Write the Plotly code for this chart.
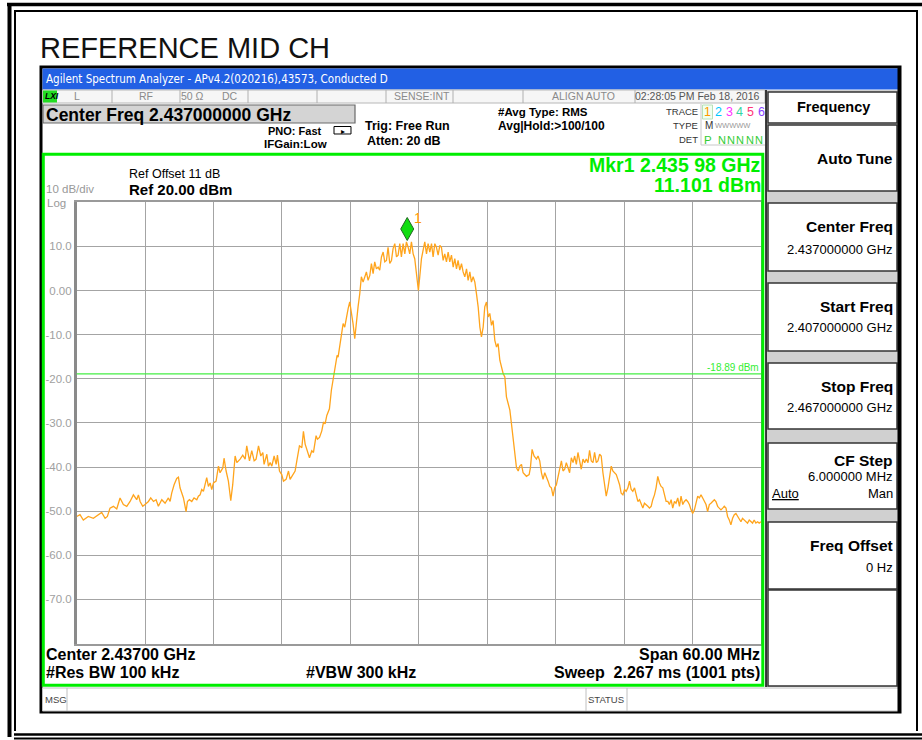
import plotly.graph_objects as go

W, H = 922, 740
FONT = "Liberation Sans, Arial, sans-serif"

# ---------------- data ----------------
start_ghz = 2.407
stop_ghz = 2.467
offset_mhz = [
    0.00, 0.29, 0.58, 1.02, 1.46, 1.90, 2.19, 2.49, 2.69, 2.92, 3.22, 3.51, 3.80, 4.09, 4.39, 4.68,
    4.97, 5.26, 5.41, 5.56, 5.79, 5.99, 6.29, 6.49, 6.73, 6.96, 7.16, 7.46, 7.75, 8.04, 8.19, 8.33,
    8.54, 8.77, 8.92, 9.06, 9.36, 9.59, 9.71, 9.88, 10.09, 10.29, 10.53, 10.67, 10.82, 10.96, 11.11,
    11.40, 11.55, 11.70, 11.84, 11.99, 12.22, 12.43, 12.57, 12.81, 12.92, 13.10, 13.30, 13.51, 13.68,
    13.89, 14.04, 14.33, 14.56, 14.77, 14.91, 15.15, 15.35, 15.56, 15.73, 15.94, 16.14, 16.32, 16.43,
    16.67, 16.81, 16.96, 17.11, 17.31, 17.49, 17.60, 17.78, 17.98, 18.13, 18.36, 18.57, 18.71, 18.95,
    19.15, 19.30, 19.53, 19.74, 19.88, 20.03, 20.23, 20.41, 20.61, 20.76, 20.99, 21.11, 21.29, 21.49,
    21.64, 21.78, 21.93, 22.16,
    22.33, 22.48, 22.68, 22.83, 22.92, 23.06, 23.21, 23.36, 23.50, 23.65, 23.80, 23.94, 24.09, 24.23,
    24.38, 24.53, 24.67, 24.82, 24.96, 25.11, 25.26, 25.40, 25.55, 25.70, 25.84, 25.99, 26.13, 26.28,
    26.43, 26.57, 26.72, 26.87, 27.01, 27.16, 27.30, 27.45, 27.60, 27.74, 27.89, 28.04, 28.18, 28.33,
    28.47, 28.62, 28.77, 28.91, 29.06, 29.20, 29.35, 29.50, 29.64, 29.79, 29.88, 29.96, 30.08, 30.23,
    30.37, 30.52, 30.67, 30.81, 30.96, 31.11, 31.25, 31.40, 31.54, 31.69, 31.84, 31.98, 32.13, 32.27,
    32.42, 32.57, 32.71, 32.86, 33.01, 33.15, 33.30, 33.44, 33.59, 33.74, 33.88, 34.03, 34.18, 34.32,
    34.47, 34.61, 34.76, 34.91, 35.05, 35.20, 35.35, 35.49, 35.64, 35.78, 35.93, 36.08, 36.22, 36.37,
    36.51, 36.66, 36.81, 36.95, 37.10, 37.25, 37.39, 37.54, 37.68, 37.83, 37.98, 38.12,
    38.27, 38.41, 38.56, 38.71, 38.85, 39.00, 39.14, 39.43, 39.67, 39.78, 39.93, 40.10, 40.31, 40.45,
    40.60, 40.75, 40.89, 41.04, 41.18, 41.33, 41.48, 41.62, 41.77, 41.91, 42.06, 42.20, 42.35, 42.50,
    42.64, 42.79, 42.93, 43.08, 43.22, 43.37, 43.52, 43.66, 43.81, 43.95, 44.10, 44.24, 44.39, 44.54,
    44.68, 44.83, 44.97, 45.12, 45.27, 45.41, 45.56, 45.70, 45.85, 45.99, 46.14, 46.29, 46.43, 46.58,
    46.72, 46.87, 47.01, 47.16, 47.31, 47.45, 47.60, 47.74, 47.89, 48.03, 48.18, 48.33, 48.47, 48.62,
    48.76, 48.91, 49.06, 49.20, 49.35, 49.49, 49.64, 49.78, 49.93, 50.08, 50.22, 50.37, 50.51, 50.66,
    50.80, 50.95, 51.10, 51.24, 51.39, 51.53, 51.68, 51.83, 51.97, 52.12, 52.26, 52.41, 52.55, 52.70,
    52.85, 52.99, 53.14, 53.28, 53.43, 53.57, 53.72, 53.87, 54.01, 54.16, 54.30, 54.45, 54.59, 54.74,
    54.89, 55.03, 55.18, 55.32, 55.47, 55.61, 55.76, 55.91, 56.05, 56.20, 56.34, 56.49, 56.64, 56.78,
    56.93, 57.07, 57.22, 57.36, 57.51, 57.66, 57.80, 57.95, 58.09, 58.24, 58.38, 58.53, 58.67, 58.82,
    58.97, 59.11, 59.26, 59.40, 59.55, 59.70, 59.84, 60.00,
]
level_dbm = [
    -51.2, -50.8, -52.0, -51.2, -51.6, -50.8, -50.3, -51.6, -51.2, -49.3, -48.9, -49.5, -47.0, -48.5, -48.9, -47.8,
    -46.3, -47.4, -46.3, -47.8, -48.9, -48.5, -47.8, -47.0, -47.8, -47.4, -48.9, -47.4, -48.2, -47.0, -47.8, -45.9,
    -44.0, -42.6, -42.3, -44.7, -47.0, -50.1, -47.8, -47.4, -47.8, -47.0, -47.4, -46.6, -46.3, -45.1, -45.5,
    -42.4, -44.4, -43.6, -45.1, -43.6, -43.2, -39.8, -41.3, -40.2, -38.0, -40.9, -43.2, -47.6, -44.0,
    -37.5, -39.0, -38.2, -37.3, -38.2, -35.2, -38.6, -36.3, -38.6, -38.2, -35.2, -37.5, -36.7, -39.4,
    -37.1, -39.8, -39.0, -39.8, -37.5, -39.4, -37.3, -40.9, -41.7, -43.2, -42.8, -40.9, -42.8, -41.7,
    -40.9, -38.6, -35.2, -35.6, -31.9, -34.8, -36.3, -37.9, -36.3, -36.7, -32.9, -33.7, -33.3, -31.8,
    -29.8, -30.2, -28.3, -26.8,
    -22.6, -20.3, -16.6, -14.7, -15.1, -12.8, -9.8, -7.5, -8.3, -6.0, -4.1, -2.6, -4.9, -7.5,
    -10.9, -6.8, -3.7, -0.7, 3.1, 1.9, 3.4, 4.2, 2.3, 3.4, 6.1, 3.8, 6.5, 4.9,
    5.3, 4.6, 7.6, 8.7, 6.5, 6.8, 9.8, 6.1, 6.8, 9.5, 10.6, 7.6, 8.0, 10.6,
    7.6, 10.6, 8.3, 11.0, 9.8, 8.3, 11.0, 8.3, 7.2, 3.8, 1.5, 0.0, 3.1, 7.2,
    9.1, 11.0, 8.3, 10.6, 8.7, 10.6, 7.6, 10.6, 9.8, 8.0, 10.2, 9.8, 6.8, 8.3,
    6.5, 8.7, 6.5, 8.0, 5.3, 7.2, 4.9, 6.8, 4.6, 6.1, 4.2, 3.1, 4.9, 2.3,
    4.2, 1.9, 3.1, 1.9, -0.7, -3.7, -8.3, -10.5, -8.3, -3.7, -2.6, -6.0, -5.2, -7.9,
    -6.8, -11.3, -12.8, -12.0, -15.8, -17.3, -18.8, -19.6, -24.1, -25.6, -27.1, -30.2,
    -33.3, -36.3, -40.2, -40.9, -39.8, -39.4, -41.3, -42.1, -41.7, -40.2, -36.0, -37.5, -38.2, -37.5,
    -38.6, -41.3, -42.8, -41.3, -42.1, -43.2, -44.4, -44.7, -46.6, -44.7, -44.0, -42.1, -40.5, -38.6,
    -40.9, -40.5, -39.0, -40.5, -41.3, -37.9, -39.0, -37.5, -39.4, -36.7, -39.0, -40.5, -38.2, -39.0,
    -38.2, -39.0, -36.2, -38.6, -39.0, -36.7, -39.0, -38.6, -37.1, -37.5, -41.3, -44.4, -46.6, -44.7,
    -42.4, -39.8, -40.9, -41.3, -41.7, -42.8, -44.0, -45.9, -46.3, -45.1, -45.5, -44.7, -43.2, -45.1,
    -45.5, -44.7, -46.6, -47.8, -47.4, -48.5, -49.3, -48.2, -48.5, -48.9, -49.3, -48.9, -47.4, -46.3,
    -44.7, -42.1, -43.6, -44.4, -44.7, -46.3, -47.8, -47.8, -48.5, -47.4, -49.3, -47.8, -48.2, -47.0,
    -48.9, -46.6, -48.5, -47.8, -47.4, -47.8, -48.5, -49.7, -50.5, -49.7, -47.8, -46.6, -47.0, -46.3,
    -47.0, -47.8, -48.5, -50.1, -48.5, -48.2, -47.8, -47.4, -47.8, -48.9, -49.3, -49.7, -49.3, -48.9,
    -49.3, -51.2, -52.0, -53.1, -51.6, -50.8, -50.5, -51.2, -51.6, -52.4, -51.6, -52.0, -52.4, -52.7,
    -52.0, -52.4, -52.7, -52.0, -52.7, -52.4, -52.7, -52.4,
]
freq_ghz = [start_ghz + m / 1000.0 for m in offset_mhz]

ref_level = 20.0
bottom_level = -80.0
y_ticks = [10, 0, -10, -20, -30, -40, -50, -60, -70]
y_tick_text = ["10.0", "0.00", "-10.0", "-20.0", "-30.0", "-40.0", "-50.0", "-60.0", "-70.0"]
x_grid = [2.413, 2.419, 2.425, 2.431, 2.437, 2.443, 2.449, 2.455, 2.461]
display_line = -18.89
marker_freq = 2.43598
marker_level = 11.101

# ---------------- helpers ----------------
shapes, annos = [], []


def px(x):
    return x / W


def py(y):
    return 1 - y / H


def rect(x0, y0, x1, y1, line="black", width=1, fill=None):
    shapes.append(dict(type="rect", xref="paper", yref="paper", x0=px(x0), x1=px(x1),
                       y0=py(y1), y1=py(y0),
                       line=dict(color=line, width=width) if width else dict(width=0),
                       fillcolor=fill if fill else "rgba(0,0,0,0)", layer="above"))


def line(x0, y0, x1, y1, color="black", width=1):
    shapes.append(dict(type="line", xref="paper", yref="paper", x0=px(x0), x1=px(x1),
                       y0=py(y0), y1=py(y1), line=dict(color=color, width=width), layer="above"))


def txt(x, y, s, size, color="black", bold=False, anchor="left", family=FONT):
    annos.append(dict(x=px(x), y=py(y), xref="paper", yref="paper",
                      text=("<b>%s</b>" % s) if bold else s, showarrow=False,
                      xanchor=anchor, yanchor="middle", borderpad=0,
                      font=dict(size=size, color=color, family=family)))


# ---------------- page frame ----------------
line(7, 4.5, 922, 4.5, width=3.5)
line(9.5, 3, 9.5, 737, width=4)
line(14, 11, 917, 11, width=2)
line(15, 10, 15, 731, width=2)
line(917, 10, 917, 731, width=2)
line(14, 734.5, 922, 734.5, width=2.5)
line(14, 738.5, 922, 738.5, width=2)

txt(39, 48, "REFERENCE MID CH", 29, color="#111111")

# ---------------- analyzer window ----------------
rect(41, 67, 900, 712, line="black", width=3)
rect(42.5, 68.5, 898.5, 89.5, width=0, fill="#2260e4")
txt(45, 79.5, "Agilent Spectrum Analyzer - APv4.2(020216),43573, Conducted D", 11.5,
    color="white", family="DejaVu Sans Condensed, DejaVu Sans, sans-serif")

# status row
rect(42.5, 90, 765, 103, line="#b8b8b8", width=1, fill="#f6f6f6")
rect(43, 90.5, 57, 102.5, width=0, fill="#22dd22")
txt(43.5, 96.5, "<i>LXI</i>", 8.5, bold=True)
for xs in [112, 180, 248, 317, 386, 453, 523, 635]:
    line(xs, 90, xs, 103, color="#b0b0b0", width=1)
sc = "#8a8a8a"
txt(77, 96.5, "L", 10.5, color=sc, anchor="center")
txt(146, 96.5, "RF", 10.5, color=sc, anchor="center")
txt(192, 96.5, "50 Ω", 10.5, color=sc, anchor="center")
txt(230, 96.5, "DC", 10.5, color=sc, anchor="center")
txt(422, 96.5, "SENSE:INT", 10.5, color=sc, anchor="center")
txt(583, 96.5, "ALIGN AUTO", 10.5, color=sc, anchor="center")
txt(697, 96.5, "02:28:05 PM Feb 18, 2016", 10.5, color="#555555", anchor="center")

# center freq box
rect(43, 105, 355, 123, line="#6a6a6a", width=1.2, fill="#d4d4d4")
txt(45, 114.5, "Center Freq 2.437000000 GHz", 17.5, bold=True)

txt(323, 131, "PNO: Fast", 11, bold=True, anchor="right")
txt(328, 144, "IFGain:Low", 11.5, bold=True, anchor="right")
shapes.append(dict(type="path", xref="paper", yref="paper",
                   path="M %f,%f L %f,%f L %f,%f L %f,%f Z" % (px(334), py(126.5), px(351), py(126.5),
                                                             px(351), py(134), px(334), py(134)),
                   line=dict(color="black", width=1), layer="above"))
txt(343, 132, "▸", 8, anchor="center")
txt(364, 126.5, "Trig: Free Run", 12.5, bold=True)
txt(366, 141, "Atten: 20 dB", 12.5, bold=True)
txt(497, 112, "#Avg Type: RMS", 11.5, bold=True)
txt(497, 126, "Avg|Hold:>100/100", 12, bold=True)

# trace indicator block
txt(699, 111.5, "TRACE", 9.5, color="#333333", anchor="right")
txt(699, 125.5, "TYPE", 9.5, color="#333333", anchor="right")
txt(699, 139.5, "DET", 9.5, color="#333333", anchor="right")
line(701, 104, 701, 145, color="#c8c8c8", width=1)
line(701, 145, 765, 145, color="#c8c8c8", width=1)
rect(702.5, 105, 712.5, 119, line="#b8e0b8", width=1, fill="#f0fff0")
trace_cols = ["#ff9900", "#00c8ff", "#ff33ff", "#33d6a0", "#ff3377", "#8844ff"]
for i, c in enumerate(trace_cols):
    txt(707.5 + i * 10.8, 112, str(i + 1), 12.5, color=c, anchor="center")
txt(704, 125.5, "M", 10, color="#333333")
txt(714, 125.5, "WWWWW", 7.5, color="#999999")
txt(708, 139.5, "P", 11.5, color="#33cc33", anchor="center")
for i in range(5):
    txt(722 + i * 9.2, 139.5, "N", 11, color="#33cc33", anchor="center")

# green graticule frame
rect(43.3, 154.3, 762.8, 685.2, line="#00ee00", width=3)

txt(128, 173.5, "Ref Offset 11 dB", 12.5)
txt(128, 189.5, "Ref 20.00 dBm", 15, bold=True)
txt(45, 188.5, "10 dB/div", 11.5, color="#999999")
txt(46, 203, "Log", 11.5, color="#999999")
txt(762, 164.5, "Mkr1 2.435 98 GHz", 19.5, color="#00ee00", bold=True, anchor="right")
txt(762, 185, "11.101 dBm", 19.5, color="#00ee00", bold=True, anchor="right")
txt(760, 367.5, "%.2f dBm" % display_line, 10, color="#33ee33", anchor="right")

txt(45, 654, "Center 2.43700 GHz", 16, bold=True)
txt(45, 672, "#Res BW 100 kHz", 16, bold=True)
txt(305, 672, "#VBW 300 kHz", 16, bold=True)
txt(761, 654, "Span 60.00 MHz", 16, bold=True, anchor="right")
txt(761, 672, "Sweep  2.267 ms (1001 pts)", 16, bold=True, anchor="right")

# message row
rect(42.5, 688, 898.5, 711, line="#c0c0c0", width=1, fill="white")
line(67, 688, 67, 711, color="#c0c0c0")
line(586, 688, 586, 711, color="#c0c0c0")
line(627, 688, 627, 711, color="#c0c0c0")
txt(44, 699, "MSG", 9.5, color="#444444")
txt(606, 699, "STATUS", 9.5, color="#444444", anchor="center")

# softkey panel
rect(766, 90, 898, 687, width=0, fill="#d0d0d0")
line(766, 90, 766, 687, color="black", width=1.5)
keys = [(92, 123), (125, 191), (203, 271), (283, 351), (363, 429), (443, 509), (522, 589), (590, 686)]
for (a, b) in keys:
    rect(768, a, 897, b, line="#333333", width=1.5, fill="white")
line(899, 67, 899, 712, color="black", width=3)
txt(833, 106.5, "Frequency", 14.5, bold=True, anchor="center")
txt(894, 158, "Auto Tune", 15.5, bold=True, anchor="right")
txt(894, 227, "Center Freq", 15.5, bold=True, anchor="right")
txt(894, 249, "2.437000000 GHz", 13, anchor="right")
txt(894, 306, "Start Freq", 15.5, bold=True, anchor="right")
txt(894, 327, "2.407000000 GHz", 13, anchor="right")
txt(894, 386.5, "Stop Freq", 15.5, bold=True, anchor="right")
txt(894, 407.5, "2.467000000 GHz", 13, anchor="right")
txt(894, 460, "CF Step", 15.5, bold=True, anchor="right")
txt(894, 476.5, "6.000000 MHz", 13, anchor="right")
txt(771, 493, "<u>Auto</u>", 13)
txt(894, 493, "Man", 13, anchor="right")
txt(894, 545.5, "Freq Offset", 15.5, bold=True, anchor="right")
txt(894, 567, "0 Hz", 13, anchor="right")

# ---------------- plot ----------------
fig = go.Figure()
fig.add_trace(go.Scatter(x=freq_ghz, y=level_dbm, mode="lines",
                         line=dict(color="#ffa41c", width=1.3), hoverinfo="skip", showlegend=False))

# display line
shapes.append(dict(type="line", xref="x domain", yref="y", x0=0, x1=1, y0=display_line, y1=display_line,
                   line=dict(color="#44ee44", width=1.2), layer="above"))
# marker diamond (pixel-sized, anchored at the marker point)
shapes.append(dict(type="path", xref="x", yref="y", xsizemode="pixel", ysizemode="pixel",
                   xanchor=marker_freq, yanchor=marker_level,
                   path="M0,1 L6.5,12.5 L0,24 L-6.5,12.5 Z",
                   fillcolor="#11dd11", line=dict(color="#226622", width=1), layer="above"))
annos.append(dict(x=marker_freq, y=marker_level, xref="x", yref="y", text="1", showarrow=False,
                  xshift=11, yshift=23, font=dict(size=14, color="#ff9900", family=FONT)))

xd = [76.7 / W, 761.0 / W]
yd = [1 - 643.6 / H, 1 - 202.2 / H]
fig.update_layout(
    width=W, height=H, autosize=False,
    margin=dict(l=0, r=0, t=0, b=0, pad=0),
    paper_bgcolor="white", plot_bgcolor="white",
    shapes=shapes, annotations=annos, showlegend=False,
    xaxis=dict(domain=xd, range=[start_ghz, stop_ghz], tickvals=x_grid, showticklabels=False,
               showgrid=True, gridcolor="#a4a4a4", gridwidth=1.4, zeroline=False, ticks="",
               showline=True, linecolor="#9a9a9a", linewidth=2, mirror=True, fixedrange=True),
    yaxis=dict(domain=yd, range=[bottom_level, ref_level], tickvals=y_ticks, ticktext=y_tick_text,
               showgrid=True, gridcolor="#a4a4a4", gridwidth=1.4, zeroline=False, ticks="",
               showline=True, linecolor="#8a8a8a", linewidth=2.5, mirror=True,
               tickfont=dict(size=11.5, color="#a0a0a0", family=FONT), fixedrange=True),
)
fig.write_html("out.html", config={"displayModeBar": False},
               post_script="document.body.style.margin='0';document.body.style.overflow='hidden';")
